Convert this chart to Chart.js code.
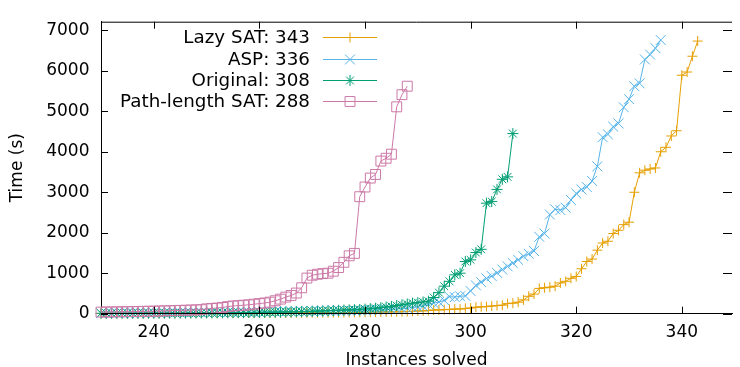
<!DOCTYPE html>
<html>
<head>
<meta charset="utf-8">
<script src="https://cdn.jsdelivr.net/npm/chart.js@4.4.1/dist/chart.umd.min.js"></script>
<style>
  html, body { margin: 0; padding: 0; background: #fff; }
  #wrap { width: 740px; height: 367px; }
</style>
</head>
<body>
<div id="wrap"><canvas id="cactus" width="740" height="367"></canvas></div>
<script>
// instances solved (x) start here, one value per instance
const firstSolved = 230;
const xTicks = [240, 260, 280, 300, 320, 340];
const yTicks = [0, 1000, 2000, 3000, 4000, 5000, 6000, 7000];
const seriesNames = ["Lazy SAT: 343", "ASP: 336", "Original: 308", "Path-length SAT: 288"];

// time (s) for instances 230..343
const lazySat = [
  5, 5, 5, 6, 6, 6, 6, 7, 7, 7, 8, 8, 8, 9, 9, 9, 10, 10, 10, 11,
  11, 12, 12, 13, 13, 14, 14, 15, 15, 16, 16, 17, 18, 18, 19, 20, 21, 22, 22, 23,
  24, 25, 26, 27, 28, 29, 30, 31, 33, 35, 36, 38, 40, 42, 44, 46, 48, 50, 55, 60,
  65, 70, 78, 90, 95, 100, 105, 115, 115, 130, 140, 160, 170, 175, 190, 200, 210, 250, 260, 284,
  341, 430, 485, 625, 640, 655, 680, 760, 800, 875, 920, 1110, 1290, 1350, 1570, 1745, 1790, 1980, 2060, 2200,
  2260, 3000, 3480, 3545, 3575, 3600, 4000, 4110, 4390, 4520, 5890, 5970, 6360, 6735
];
// time (s) for instances 230..336
const asp = [
  15, 15, 16, 16, 17, 17, 18, 18, 19, 20, 20, 21, 22, 22, 23, 24, 25, 26, 27, 28,
  29, 30, 31, 32, 33, 34, 35, 36, 38, 40, 42, 44, 46, 48, 50, 52, 54, 56, 58, 60,
  62, 64, 66, 68, 70, 72, 75, 78, 80, 83, 86, 90, 94, 98, 102, 108, 115, 125, 135, 150,
  165, 185, 230, 260, 290, 330, 420, 410, 430, 440, 560, 700, 780, 870, 930, 1010, 1090, 1170, 1250, 1330,
  1420, 1480, 1550, 1900, 1980, 2450, 2580, 2560, 2620, 2810, 2970, 3070, 3130, 3280, 3640, 4360, 4430, 4620, 4700, 5100,
  5300, 5620, 5690, 6280, 6400, 6560, 6760
];
// time (s) for instances 230..308
const original = [
  10, 10, 11, 11, 12, 12, 13, 13, 14, 14, 15, 15, 16, 16, 17, 17, 18, 18, 19, 20,
  21, 22, 23, 24, 25, 26, 27, 28, 29, 30, 32, 34, 36, 38, 40, 43, 46, 49, 52, 55,
  60, 65, 70, 75, 80, 85, 90, 95, 100, 105, 115, 125, 135, 150, 165, 180, 200, 220, 240, 260,
  275, 290, 310, 400, 520, 680, 800, 960, 1000, 1290, 1330, 1510, 1590, 2730, 2770, 3070, 3320, 3380, 4450
];
// time (s) for instances 230..288
const pathLength = [
  40, 42, 44, 46, 48, 50, 52, 55, 58, 60, 63, 66, 70, 74, 78, 82, 86, 90, 95, 100,
  120, 130, 140, 155, 175, 190, 200, 210, 220, 235, 250, 265, 285, 320, 360, 410, 450, 510, 640, 880,
  950, 975, 990, 1000, 1050, 1140, 1270, 1430, 1490, 2890, 3130, 3350, 3440, 3770, 3840, 3940, 5110, 5410, 5620
];

const colors = ["#e69f00", "#56b4e9", "#009e73", "#cc79a7"];
const marks = [
  { style: "cross", r: 5 },
  { style: "crossRot", r: 7 },
  { style: "star", r: 5.5 },
  { style: "rect", r: 7 }
];
const FAMILY = "'DejaVu Sans', sans-serif";
const AXIS_SIZE = 17;
const KEY_SIZE = 18.3;

const toPoints = (arr) => arr.map((t, i) => ({ x: firstSolved + i, y: t }));
const allSeries = [lazySat, asp, original, pathLength];

const datasets = allSeries.map((arr, k) => ({
  label: seriesNames[k],
  data: toPoints(arr),
  borderColor: colors[k],
  backgroundColor: "rgba(0,0,0,0)",
  borderWidth: 1,
  pointStyle: marks[k].style,
  pointRadius: marks[k].r,
  pointBorderWidth: 1,
  pointBorderColor: colors[k],
  pointBackgroundColor: "rgba(0,0,0,0)",
  tension: 0,
  fill: false,
  clip: false,
  order: 3 - k
}));

// gnuplot style frame: top border, zero axis and inward ticks
const framePlugin = {
  id: "frame",
  afterDatasetsDraw(chart) {
    const { ctx, chartArea: a, scales } = chart;
    ctx.save();
    ctx.strokeStyle = "#000";
    ctx.lineWidth = 1;
    ctx.beginPath();
    ctx.moveTo(a.left, a.top + 0.5);
    ctx.lineTo(a.right, a.top + 0.5);
    const y0 = Math.round(scales.y.getPixelForValue(0)) - 0.5;
    ctx.moveTo(a.left, y0);
    ctx.lineTo(a.right, y0);
    xTicks.forEach((v) => {
      const px = Math.round(scales.x.getPixelForValue(v)) + 0.5;
      ctx.moveTo(px, a.bottom);
      ctx.lineTo(px, a.bottom - 7);
      ctx.moveTo(px, a.top);
      ctx.lineTo(px, a.top + 7);
    });
    yTicks.forEach((v) => {
      const py = Math.round(scales.y.getPixelForValue(v)) + 0.5;
      ctx.moveTo(a.left, py);
      ctx.lineTo(a.left + 7, py);
      ctx.moveTo(a.right, py);
      ctx.lineTo(a.right - 9, py);
    });
    ctx.stroke();
    ctx.restore();
  }
};

// key inside the plot, text right-aligned with sample on the right
const keyPlugin = {
  id: "key",
  afterDraw(chart) {
    const { ctx } = chart;
    const rows = [37, 59, 80, 101];
    ctx.save();
    ctx.font = KEY_SIZE + "px " + FAMILY;
    ctx.textAlign = "right";
    ctx.textBaseline = "middle";
    seriesNames.forEach((name, k) => {
      const y = rows[k];
      ctx.fillStyle = "#000";
      ctx.fillText(name, 310, y + 1);
      ctx.strokeStyle = colors[k];
      ctx.lineWidth = 1;
      ctx.beginPath();
      ctx.moveTo(323, y + 0.5);
      ctx.lineTo(377, y + 0.5);
      ctx.stroke();
      ctx.fillStyle = "rgba(0,0,0,0)";
      Chart.helpers.drawPoint(ctx, {
        pointStyle: marks[k].style, radius: marks[k].r, rotation: 0, borderWidth: 1
      }, 350, y + 0.5);
    });
    ctx.restore();
  }
};

Chart.defaults.font.family = FAMILY;
Chart.defaults.font.size = AXIS_SIZE;
Chart.defaults.color = "#000";

new Chart(document.getElementById("cactus"), {
  type: "line",
  data: { datasets },
  options: {
    responsive: false,
    animation: false,
    devicePixelRatio: 1,
    layout: { padding: { top: 9.3, right: 0, bottom: 0, left: 0 } },
    plugins: { legend: { display: false }, tooltip: { enabled: false } },
    scales: {
      x: {
        type: "linear",
        min: 230,
        max: 349.5,
        afterFit(s) { s.height = 53.3; },
        afterBuildTicks(s) { s.ticks = xTicks.map((v) => ({ value: v })); },
        grid: { display: false, drawTicks: false },
        border: { display: true, color: "#000", width: 1 },
        ticks: { padding: 9, maxRotation: 0, autoSkip: false, color: "#000", callback: (v) => String(v) },
        title: {
          display: true, text: "Instances solved", color: "#000",
          font: { lineHeight: 0.7 }, padding: { top: 0, bottom: 0 }
        }
      },
      y: {
        min: 0,
        max: 7213,
        afterFit(s) { s.width = 101; },
        afterBuildTicks(s) { s.ticks = yTicks.map((v) => ({ value: v })); },
        grid: { display: false, drawTicks: false },
        border: { display: true, color: "#000", width: 1 },
        ticks: { padding: 11.5, color: "#000", callback: (v) => String(v) },
        title: {
          display: true, text: "Time (s)", color: "#000",
          padding: { top: 7, bottom: 0 }
        }
      }
    }
  },
  plugins: [framePlugin, keyPlugin]
});
</script>
</body>
</html>
